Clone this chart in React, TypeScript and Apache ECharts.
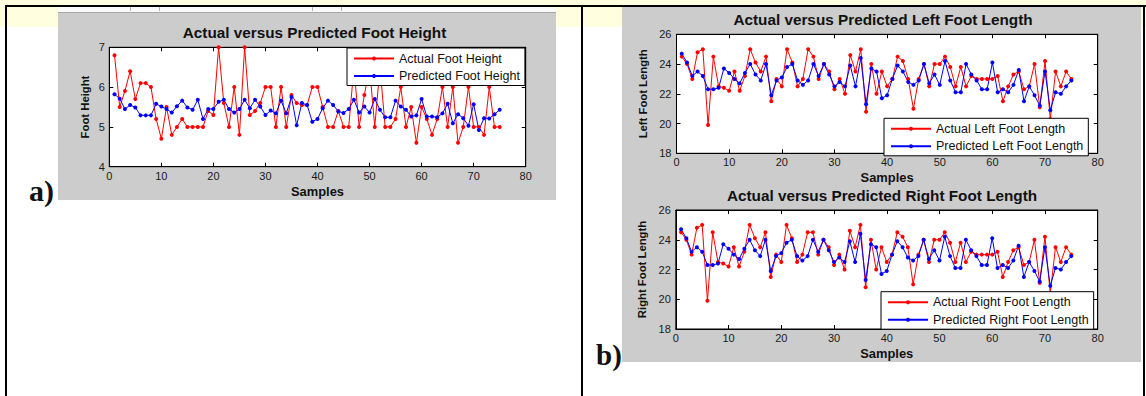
import React, { useEffect, useRef } from "react";
import * as echarts from "echarts";

// ---------- data ----------
const xTicks = { min: 0, max: 80, interval: 10 };

const footHeightActual = [
  6.8, 5.5, 5.9, 6.4, 5.7, 6.1, 6.1, 6.0, 5.2, 4.7,
  5.5, 4.8, 5.0, 5.2, 5.0, 5.0, 5.0, 5.0, 5.4, 5.3,
  7.0, 5.6, 5.0, 6.0, 4.8, 7.0, 5.3, 5.4, 5.6, 6.0,
  6.0, 5.0, 6.0, 5.0, 5.8, 5.6, 5.55, 5.55, 6.0, 6.0,
  5.5, 5.0, 5.0, 5.4, 5.0, 5.0, 6.5, 5.0, 5.8, 6.5,
  5.0, 6.5, 5.0, 5.0, 5.2, 6.0, 5.0, 5.5, 4.6, 5.5,
  5.2, 4.8, 5.2, 6.0, 5.0, 6.0, 4.6, 5.0, 6.0, 5.0,
  5.0, 4.8, 6.0, 5.0, 5.0,
];
const footHeightPredicted = [
  5.82, 5.71, 5.45, 5.55, 5.49, 5.29, 5.29, 5.29, 5.58, 5.51,
  5.45, 5.36, 5.52, 5.66, 5.49, 5.43, 5.68, 5.2, 5.45, 5.45,
  5.63, 5.68, 5.45, 5.36, 5.45, 5.68, 5.47, 5.68, 5.51, 5.3,
  5.41, 5.34, 5.66, 5.34, 5.75, 5.04, 5.6, 5.55, 5.13, 5.2,
  5.47, 5.66, 5.55, 5.39, 5.35, 5.45, 5.68, 5.36, 5.51, 5.36,
  5.7, 5.43, 5.24, 5.24, 5.66, 5.51, 5.43, 5.26, 5.29, 5.7,
  5.26, 5.26, 5.24, 5.34, 5.58, 5.09, 5.32, 5.22, 5.03, 5.57,
  4.92, 5.22, 5.21, 5.32, 5.43,
];
const leftActual = [
  24.5, 24.0, 23.0, 24.8, 25.0, 19.9, 24.5, 22.5, 22.4, 22.2,
  23.5, 22.2, 23.2, 25.0, 24.1, 23.5, 24.5, 21.5, 23.0, 22.5,
  25.0, 24.1, 22.5, 23.0, 25.0, 24.5, 23.0, 24.0, 23.5, 22.3,
  23.0, 22.0, 24.6, 23.5, 25.0, 20.8, 24.0, 22.0, 23.5, 22.5,
  23.0, 24.5, 24.2, 23.0, 21.0, 23.0, 24.0, 22.5, 24.0, 24.0,
  24.5, 23.8, 22.5, 23.8, 22.5, 23.2, 23.0, 23.0, 23.0, 23.0,
  23.2, 21.5, 22.5, 23.3, 23.5, 22.3, 22.5, 24.0, 21.1, 24.2,
  20.3, 23.5, 22.5, 23.5, 23.0,
];
const leftPredicted = [
  24.7, 24.1, 23.2, 23.5, 23.2, 22.3, 22.3, 22.4, 23.7, 23.4,
  23.0, 22.7, 23.4, 24.0, 23.3, 22.9, 24.0, 21.9, 22.9, 23.1,
  23.8, 24.0, 22.9, 22.6, 22.9, 24.0, 23.2, 24.0, 23.3, 22.5,
  22.8, 22.5, 23.9, 22.5, 24.4, 21.3, 23.7, 23.5, 21.7, 21.9,
  23.0, 23.9, 23.5, 22.8, 22.6, 22.9, 24.0, 22.7, 23.3, 22.6,
  24.2, 22.9, 22.1, 22.1, 24.0, 23.3, 22.9, 22.3, 22.3, 24.1,
  22.1, 22.3, 22.1, 22.6, 23.6, 21.5, 22.5, 21.9, 21.2, 23.5,
  20.9, 22.1, 22.0, 22.5, 22.9,
];
const rightActual = [
  24.5, 24.0, 23.0, 24.8, 25.0, 19.9, 24.5, 22.5, 22.4, 22.2,
  23.5, 22.2, 23.2, 25.0, 24.1, 23.5, 24.5, 21.5, 23.0, 22.5,
  25.0, 24.1, 22.5, 23.0, 24.5, 24.5, 23.0, 24.0, 23.5, 22.3,
  23.0, 22.0, 24.6, 23.5, 25.0, 20.8, 24.0, 22.0, 23.5, 22.5,
  23.0, 24.5, 24.2, 23.5, 21.0, 23.0, 24.0, 22.5, 24.0, 24.0,
  24.5, 23.8, 22.5, 23.8, 22.5, 23.2, 23.0, 23.0, 23.0, 23.0,
  23.2, 21.5, 22.5, 23.3, 23.5, 22.3, 22.5, 24.0, 21.1, 24.2,
  20.4, 23.5, 22.5, 23.5, 23.0,
];
const rightPredicted = [
  24.7, 24.1, 23.2, 23.5, 23.2, 22.3, 22.3, 22.4, 23.7, 23.4,
  23.0, 22.7, 23.4, 24.0, 23.3, 22.9, 24.0, 21.9, 22.9, 23.1,
  23.8, 24.0, 22.9, 22.6, 22.9, 24.0, 23.2, 24.0, 23.3, 22.5,
  22.8, 22.5, 23.9, 22.5, 24.4, 21.3, 23.7, 23.5, 21.7, 21.9,
  23.0, 23.9, 23.5, 22.8, 22.6, 22.9, 24.0, 22.7, 23.3, 22.6,
  24.2, 22.9, 22.1, 22.1, 24.0, 23.3, 22.9, 22.3, 22.3, 24.1,
  22.1, 22.3, 22.1, 22.6, 23.6, 21.5, 22.5, 21.9, 21.2, 23.5,
  20.9, 22.1, 22.0, 22.5, 22.9,
];

const titles = [
  "Actual versus Predicted Foot Height",
  "Actual versus Predicted Left Foot Length",
  "Actual versus Predicted Right Foot Length",
];
const seriesNames = [
  ["Actual Foot Height", "Predicted Foot Height"],
  ["Actual Left Foot Length", "Predicted Left Foot Length"],
  ["Actual Right Foot Length", "Predicted Right Foot Length"],
];
const yNames = ["Foot Height", "Left Foot Length", "Right Foot Length"];
const xName = "Samples";

// ---------- styling helpers ----------
const FONT = '"Liberation Sans", Arial, sans-serif';
const SERIF = '"Liberation Serif", "Times New Roman", serif';
const RED = "#ff0000";
const BLUE = "#0000ff";

const toPoints = (arr: number[]) => arr.map((v, i) => [i + 1, v]);

function xAxisPair(gridIndex: number, margin: number) {
  const common = {
    type: "value",
    gridIndex,
    ...xTicks,
    axisLine: { show: true, onZero: false, lineStyle: { color: "#000", width: 1 } },
    axisTick: { show: true, inside: true, length: 4, lineStyle: { color: "#000" } },
    splitLine: { show: false },
  };
  return [
    {
      ...common,
      position: "bottom",
      name: xName,
      nameLocation: "middle",
      nameGap: 18,
      nameTextStyle: { fontFamily: FONT, fontWeight: "bold", fontSize: 12.9, color: "#111" },
      axisLabel: { show: true, fontFamily: FONT, fontSize: 11, color: "#1a1a1a", margin },
    },
    { ...common, position: "top", axisLabel: { show: false } },
  ];
}

function yAxisPair(gridIndex: number, min: number, max: number, interval: number, name: string, nameGap: number, margin: number) {
  const common = {
    type: "value",
    gridIndex,
    min,
    max,
    interval,
    axisLine: { show: true, onZero: false, lineStyle: { color: "#000", width: 1 } },
    axisTick: { show: true, inside: true, length: 4, lineStyle: { color: "#000" } },
    splitLine: { show: false },
  };
  return [
    {
      ...common,
      position: "left",
      name,
      nameLocation: "middle",
      nameGap,
      nameTextStyle: { fontFamily: FONT, fontWeight: "bold", fontSize: 11.3, color: "#111" },
      axisLabel: { show: true, fontFamily: FONT, fontSize: 11, color: "#1a1a1a", margin },
    },
    { ...common, position: "right", axisLabel: { show: false } },
  ];
}

function lineSeries(name: string, data: number[], color: string, axisIdx: number) {
  return {
    type: "line",
    name,
    data: toPoints(data),
    xAxisIndex: axisIdx,
    yAxisIndex: axisIdx,
    symbol: "circle",
    symbolSize: 4,
    showSymbol: true,
    lineStyle: { color, width: 1 },
    itemStyle: { color },
    emphasis: { disabled: true },
    silent: true,
  };
}

function legendBox(names: string[], left: number, top: number) {
  return {
    data: names,
    orient: "vertical",
    left,
    top,
    padding: [4, 5, 3, 6],
    itemWidth: 40,
    itemHeight: 5,
    itemGap: 4.5,
    backgroundColor: "#fff",
    borderColor: "#000",
    borderWidth: 1,
    borderRadius: 0,
    selectedMode: false,
    textStyle: { fontFamily: FONT, fontSize: 12.5, color: "#111" },
  };
}

function txt(text: string, x: number, y: number, font: string, align = "center") {
  return {
    type: "text",
    z: 100,
    silent: true,
    style: {
      text,
      x,
      y,
      font,
      fill: "#111",
      align,
      verticalAlign: "middle",
      textAlign: align,
      textVerticalAlign: "middle",
    },
  };
}

function rect(x: number, y: number, w: number, h: number, fill: string, z: number) {
  return { type: "rect", z, silent: true, shape: { x, y, width: w, height: h }, style: { fill } };
}

export default function App() {
  const ref = useRef<HTMLDivElement>(null);

  useEffect(() => {
    if (!ref.current) return;
    const chart = echarts.init(ref.current, null, { renderer: "svg" });

    const grids = [
      { left: 109.3, top: 47.3, width: 416.4, height: 119.4 },
      { left: 676.5, top: 34.3, width: 421.2, height: 119 },
      { left: 675.8, top: 210, width: 421.9, height: 119 },
    ].map((g) => ({ ...g, show: true, backgroundColor: "#fff", borderColor: "#000", borderWidth: 1, containLabel: false }));

    const xAxes = [...xAxisPair(0, 4), ...xAxisPair(1, 3), ...xAxisPair(2, 3)];
    const yAxes = [
      ...yAxisPair(0, 4, 7, 1, yNames[0], 19, 4.5),
      ...yAxisPair(1, 18, 26, 2, yNames[1], 28, 5),
      ...yAxisPair(2, 18, 26, 2, yNames[2], 28, 5),
    ];

    const series = [
      lineSeries(seriesNames[0][0], footHeightActual, RED, 0),
      lineSeries(seriesNames[0][1], footHeightPredicted, BLUE, 0),
      lineSeries(seriesNames[1][0], leftActual, RED, 2),
      lineSeries(seriesNames[1][1], leftPredicted, BLUE, 2),
      lineSeries(seriesNames[2][0], rightActual, RED, 4),
      lineSeries(seriesNames[2][1], rightPredicted, BLUE, 4),
    ];

    const sepLines = [130, 159, 312, 341].map((x) => ({
      type: "line",
      z: -90,
      silent: true,
      shape: { x1: x + 0.5, y1: 7, x2: x + 0.5, y2: 11 },
      style: { stroke: "#b0b0b0", lineWidth: 1 },
    }));

    const graphic = [
      rect(0, 0, 1146, 396, "#ffffff", -100),
      rect(0, 0, 1146, 27, "#ffffdf", -99),
      // panel a window strip + background
      rect(58, 7, 498, 6, "#fafafa", -95),
      ...sepLines,
      rect(58, 12, 498, 1, "#a8a8a8", -94),
      rect(58, 13, 498, 187, "#cccccc", -94),
      // panel b background
      rect(622, 7, 519, 355, "#cccccc", -94),
      // table borders
      rect(5, 5, 1141, 2, "#000", 90),
      rect(5, 5, 2, 391, "#000", 90),
      rect(581, 5, 2, 391, "#000", 90),
      rect(1143, 5, 2, 391, "#000", 90),
      // titles
      txt(titles[0], 314.5, 32.7, `bold 15.3px ${FONT}`),
      txt(titles[1], 883, 19.3, `bold 15.3px ${FONT}`),
      txt(titles[2], 882, 195, `bold 15.3px ${FONT}`),
      // panel labels
      txt("a)", 29, 190, `bold 30px ${SERIF}`, "left"),
      txt("b)", 596, 355, `bold 29px ${SERIF}`, "left"),
    ];

    chart.setOption({
      animation: false,
      backgroundColor: "transparent",
      grid: grids,
      xAxis: xAxes,
      yAxis: yAxes,
      series,
      legend: [
        legendBox(seriesNames[0], 347, 48),
        legendBox(seriesNames[1], 884, 118.3),
        legendBox(seriesNames[2], 881, 291.7),
      ],
      graphic,
    });

    return () => chart.dispose();
  }, []);

  return (
    <div
      ref={ref}
      style={{ position: "fixed", left: 0, top: 0, width: 1146, height: 396, background: "#fff" }}
    />
  );
}
